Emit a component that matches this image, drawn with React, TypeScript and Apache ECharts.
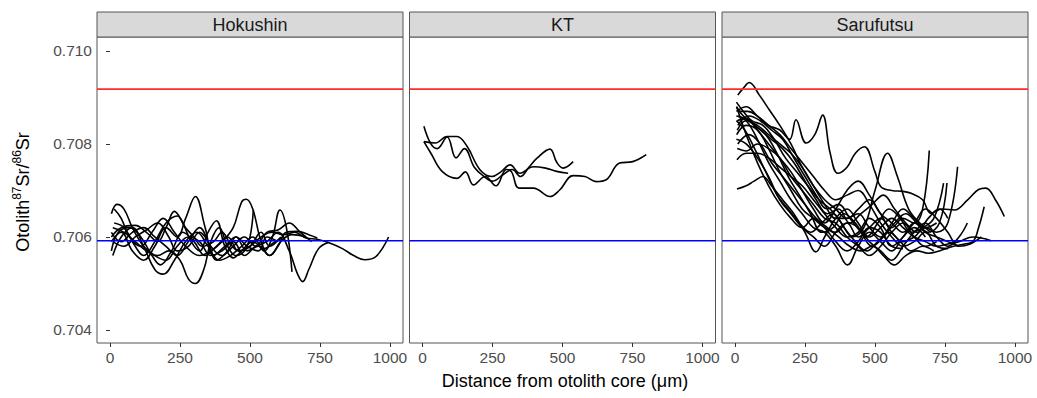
import React, { useEffect, useRef } from "react";
import * as echarts from "echarts";

type Pt = [number, number];

const PANELS = ["Hokushin", "KT", "Sarufutsu"];
const X_TICKS = [0, 250, 500, 750, 1000];
const Y_TICKS = [0.704, 0.706, 0.708, 0.71];
const REF_RED = 0.70918;
const REF_BLUE = 0.70592;
const X_RANGE = [-46.4, 1046.5];
const Y_RANGE = [0.70372, 0.7103];

// ---- Hokushin ----
const H1: Pt[] = [[5,0.7057],[30,0.7061],[70,0.7062],[110,0.706],[150,0.7056],[180,0.7054],[220,0.7057],[260,0.7061],[300,0.7059],[340,0.7056],[380,0.7058],[420,0.706],[460,0.7057],[500,0.7058],[540,0.706],[580,0.7061],[620,0.70605],[660,0.7061],[700,0.70598],[740,0.70595],[780,0.70588],[830,0.70575],[870,0.7056],[910,0.70551],[950,0.70558],[995,0.706]];
const H2: Pt[] = [[5,0.7059],[40,0.7061],[80,0.7057],[120,0.7055],[160,0.7058],[200,0.7062],[240,0.706],[270,0.7064],[305,0.70687],[340,0.7062],[370,0.7056],[410,0.7058],[450,0.706],[490,0.7058],[530,0.7057],[560,0.706],[600,0.7059]];
const H3: Pt[] = [[10,0.7062],[50,0.7061],[90,0.7059],[130,0.7057],[170,0.7056],[210,0.7057],[250,0.7055],[280,0.7051],[305,0.705],[335,0.7053],[360,0.7059],[390,0.7062],[420,0.7058],[450,0.7056],[480,0.7057],[500,0.706],[512,0.70658]];
const H4: Pt[] = [[15,0.7066],[40,0.7064],[70,0.706],[110,0.7058],[150,0.7061],[190,0.7064],[230,0.7061],[270,0.7058],[320,0.7056],[360,0.7057],[400,0.7059],[440,0.7062],[470,0.70675],[487,0.70681],[510,0.7066],[540,0.7059],[570,0.7056],[600,0.7058],[630,0.7061],[670,0.70612],[710,0.70605],[740,0.70598]];
const H5: Pt[] = [[10,0.7056],[40,0.706],[80,0.7062],[120,0.7058],[160,0.7053],[190,0.7052],[230,0.7055],[270,0.7059],[310,0.7061],[350,0.7058],[390,0.7055],[430,0.7056],[470,0.7058],[510,0.706],[550,0.7057],[580,0.706],[607,0.70658],[630,0.7062],[650,0.70525]];
const H6: Pt[] = [[5,0.7065],[25,0.7067],[50,0.7066],[80,0.7062],[120,0.7058],[160,0.7056],[200,0.7055],[240,0.7058],[280,0.706],[320,0.7059],[360,0.7056],[400,0.7057],[440,0.7059],[480,0.7056],[520,0.7058],[560,0.7059],[600,0.7061],[640,0.7057],[670,0.7052],[688,0.70504],[710,0.7053],[745,0.70575],[780,0.70588]];
const H7: Pt[] = [[5,0.706],[40,0.7062],[90,0.70625],[130,0.7061],[170,0.7059],[200,0.7062],[230,0.70655],[260,0.7063],[290,0.7059],[320,0.7057],[350,0.7061],[380,0.70635],[410,0.7058],[440,0.70555],[470,0.7057],[510,0.7059],[550,0.70575],[590,0.7059],[620,0.706]];
const H8: Pt[] = [[10,0.7059],[50,0.7058],[90,0.706],[130,0.70615],[170,0.7063],[210,0.706],[240,0.7057],[280,0.7058],[320,0.7061],[350,0.7059],[380,0.7055],[420,0.7057],[450,0.706],[490,0.7057],[530,0.7058],[570,0.7056],[610,0.7059],[650,0.70605],[700,0.706]];
const H9: Pt[] = [[15,0.7063],[50,0.7062],[90,0.7058],[120,0.7056],[160,0.7059],[200,0.7063],[240,0.70645],[270,0.7062],[300,0.706],[330,0.7058],[370,0.7059],[400,0.7061],[430,0.70585],[460,0.7057],[500,0.7058],[540,0.7061],[570,0.7058],[610,0.706]];
const H10: Pt[] = [[5,0.7061],[40,0.7059],[80,0.7061],[120,0.7062],[160,0.706],[200,0.7058],[240,0.7056],[280,0.7059],[320,0.7062],[360,0.7058],[400,0.7056],[440,0.7058],[480,0.706],[520,0.7058],[560,0.7061],[600,0.70615],[640,0.7063],[680,0.7061],[720,0.7059]];

// ---- KT ----
const K1: Pt[] = [[5,0.70838],[30,0.708],[52,0.7079],[88,0.70815],[120,0.7077],[150,0.7079],[185,0.7075],[220,0.7073],[250,0.7072],[290,0.70735],[320,0.70745],[350,0.7073],[380,0.7075],[410,0.7077],[455,0.70789],[480,0.7076],[502,0.70748],[538,0.70762]];
const K2: Pt[] = [[5,0.70805],[46,0.70802],[88,0.70816],[123,0.70816],[159,0.70795],[206,0.70744],[248,0.7073],[280,0.7074],[313,0.70755],[348,0.70737],[396,0.70751],[440,0.70748],[479,0.70741],[520,0.70737]];
const K3: Pt[] = [[5,0.70805],[30,0.7078],[70,0.70741],[123,0.70726],[153,0.7074],[182,0.70712],[224,0.7073],[262,0.7071],[300,0.70745],[318,0.7074],[345,0.70705],[396,0.70705],[455,0.70687],[490,0.70701],[538,0.70732],[580,0.7073],[621,0.70719],[656,0.70723],[704,0.70759],[751,0.70762],[799,0.70777]];

// ---- Sarufutsu ----
const S1: Pt[] = [[10,0.70905],[30,0.7092],[51,0.70932],[87,0.70905],[123,0.70873],[160,0.7084],[200,0.708],[240,0.7075],[280,0.7071],[320,0.7068],[360,0.7066],[400,0.7064],[440,0.7065],[480,0.7062],[520,0.706],[560,0.7063],[600,0.7066],[640,0.7064],[680,0.7062],[720,0.7063]];
const S2: Pt[] = [[5,0.7087],[40,0.7088],[80,0.7086],[120,0.7084],[160,0.7083],[195,0.7081],[218,0.70852],[254,0.70802],[285,0.7082],[313,0.70862],[340,0.7078],[367,0.70737],[400,0.7075],[430,0.7078],[462,0.70794],[500,0.7074],[521,0.70708],[560,0.707],[600,0.70698],[629,0.70694],[670,0.7068],[700,0.70651],[740,0.7066],[784,0.70658],[831,0.7068],[870,0.70702],[896,0.70705],[930,0.7068],[962,0.70644]];
const S3: Pt[] = [[8,0.7085],[40,0.70855],[80,0.7083],[120,0.708],[160,0.7077],[200,0.7074],[240,0.707],[280,0.7066],[320,0.7063],[360,0.7066],[400,0.707],[440,0.7072],[480,0.7069],[520,0.7065],[560,0.7062],[600,0.7064],[640,0.7063],[670,0.7066],[694,0.70786]];
const S4: Pt[] = [[6,0.7082],[40,0.7084],[80,0.7083],[120,0.7079],[160,0.7074],[200,0.707],[240,0.7066],[280,0.7064],[320,0.7062],[360,0.7061],[400,0.7063],[440,0.706],[480,0.7062],[520,0.7064],[560,0.7061],[600,0.7059],[640,0.706],[680,0.7062],[720,0.7061],[760,0.7063],[795,0.70751]];
const S5: Pt[] = [[5,0.7088],[30,0.7086],[70,0.7084],[110,0.7082],[150,0.7078],[190,0.7073],[230,0.7069],[270,0.7065],[310,0.7061],[350,0.7062],[390,0.7065],[430,0.7063],[470,0.706],[510,0.7063],[550,0.7066],[590,0.7064],[630,0.7061],[670,0.7062],[710,0.7064],[745,0.70716]];
const S6: Pt[] = [[10,0.7084],[50,0.7086],[90,0.7085],[130,0.7083],[170,0.7081],[210,0.7077],[250,0.7073],[290,0.7069],[330,0.7066],[370,0.7067],[410,0.7064],[450,0.7061],[490,0.7058],[530,0.706],[570,0.7063],[610,0.7065],[650,0.7063],[690,0.7061],[730,0.7063],[757,0.70716]];
const S7: Pt[] = [[5,0.7086],[40,0.7085],[80,0.7081],[120,0.7076],[160,0.7072],[200,0.7068],[240,0.7065],[280,0.7062],[320,0.7061],[360,0.7058],[402,0.7054],[440,0.7058],[480,0.7061],[520,0.7059],[560,0.7057],[600,0.706],[640,0.7062],[680,0.706]];
const S8: Pt[] = [[10,0.708],[50,0.7082],[90,0.708],[130,0.7076],[170,0.7073],[210,0.707],[250,0.7067],[290,0.7064],[330,0.7062],[370,0.706],[410,0.7058],[450,0.7057],[490,0.7058],[530,0.7056],[569,0.7054],[610,0.7056],[650,0.7057],[690,0.70565],[730,0.7057],[780,0.7058],[820,0.70585],[850,0.7059],[870,0.7062],[890,0.70665]];
const S9: Pt[] = [[7,0.70703],[40,0.7071],[68,0.7072],[100,0.7073],[130,0.7071],[170,0.7068],[210,0.7065],[250,0.7061],[289,0.70568],[320,0.706],[360,0.7064],[400,0.7066],[440,0.7063],[480,0.706],[520,0.7062],[560,0.7064],[600,0.7062],[640,0.706],[680,0.7059],[720,0.7058],[760,0.70585],[800,0.7059],[850,0.706],[915,0.70592]];
const S10: Pt[] = [[7,0.70766],[40,0.7078],[80,0.7078],[120,0.7077],[160,0.7075],[200,0.7073],[240,0.7071],[280,0.7068],[320,0.7065],[360,0.7062],[400,0.706],[440,0.7061],[480,0.7064],[520,0.7062],[560,0.7058],[600,0.706],[640,0.7063],[680,0.7061],[720,0.706],[760,0.7059],[800,0.7058]];
const S11: Pt[] = [[5,0.7089],[30,0.7087],[60,0.7085],[100,0.7084],[140,0.7081],[180,0.7077],[220,0.7074],[260,0.7071],[300,0.7068],[340,0.7066],[380,0.7063],[420,0.706],[460,0.7062],[500,0.707],[545,0.7078],[580,0.7073],[620,0.7066],[660,0.7063],[700,0.7061]];
const S12: Pt[] = [[8,0.7083],[40,0.7085],[80,0.7084],[120,0.7082],[160,0.708],[200,0.7078],[240,0.7075],[280,0.7071],[320,0.7067],[360,0.7064],[400,0.7064],[440,0.7066],[480,0.7068],[520,0.7065],[560,0.7063],[600,0.7061],[640,0.7063],[680,0.7066],[720,0.7064],[760,0.7061],[800,0.7058],[840,0.70585],[880,0.706]];
const S13: Pt[] = [[5,0.7085],[35,0.7083],[70,0.7079],[110,0.7074],[150,0.7069],[190,0.7066],[230,0.7063],[270,0.7061],[310,0.7063],[350,0.7065],[390,0.7062],[430,0.7059],[470,0.7057],[510,0.7059],[550,0.7061],[590,0.7059],[630,0.7057],[670,0.7058],[710,0.7057]];
const S14: Pt[] = [[10,0.7087],[45,0.7087],[80,0.7086],[120,0.7084],[160,0.7082],[200,0.7079],[240,0.7076],[280,0.7073],[320,0.707],[360,0.7068],[400,0.7069],[440,0.707],[480,0.7067],[520,0.7063],[560,0.706],[600,0.7058],[640,0.7059],[680,0.7061],[720,0.7058],[760,0.70575]];
const S15: Pt[] = [[5,0.7081],[40,0.708],[80,0.7077],[120,0.7073],[160,0.7068],[200,0.7065],[240,0.7062],[280,0.706],[320,0.7058],[360,0.7061],[400,0.7063],[440,0.7062],[480,0.7059],[520,0.7057],[560,0.7055],[600,0.7058],[640,0.7061],[680,0.7063],[720,0.706],[760,0.7058],[800,0.706],[830,0.7063]];
const S16: Pt[] = [[6,0.7088],[40,0.7082],[80,0.7076],[120,0.7071],[160,0.7067],[200,0.7064],[240,0.7062],[280,0.7064],[320,0.7062],[360,0.7059],[400,0.7057],[440,0.7059],[480,0.7062],[520,0.7061],[560,0.7058],[600,0.70575]];
const S17: Pt[] = [[10,0.7086],[50,0.7085],[90,0.7083],[130,0.7081],[170,0.7079],[210,0.7076],[250,0.7072],[290,0.7068],[330,0.7065],[370,0.7066],[410,0.7063],[450,0.7065],[490,0.7067],[530,0.7069],[570,0.7066],[610,0.7063],[650,0.7061],[690,0.7064],[730,0.7066],[760,0.7064]];
const S18: Pt[] = [[8,0.7079],[40,0.70785],[80,0.708],[120,0.7079],[160,0.7077],[200,0.7073],[240,0.707],[280,0.7067],[320,0.7064],[360,0.7063],[400,0.706],[440,0.7058],[480,0.7056],[520,0.7058],[560,0.7061],[600,0.7063],[640,0.706],[680,0.7058],[720,0.7059]];

const HOKUSHIN = [H1, H2, H3, H4, H5, H6, H7, H8, H9, H10];
const KT = [K1, K2, K3];
const SARUFUTSU = [S1, S2, S3, S4, S5, S6, S7, S8, S9, S10, S11, S12, S13, S14, S15, S16, S17, S18];
const GROUPS = [HOKUSHIN, KT, SARUFUTSU];

const FONT = "'Liberation Sans', Arial, Helvetica, sans-serif";

export default function App() {
  const ref = useRef<HTMLDivElement>(null);
  useEffect(() => {
    document.body.style.margin = "0";
    if (!ref.current) return;
    const chart = echarts.init(ref.current, undefined, { renderer: "svg" });
    const lefts = [97, 409.5, 722];
    const W = 306;
    const TOP = 37;
    const H = 306;
    const border = "#555555";

    const grids = lefts.map((l) => ({
      left: l,
      top: TOP,
      width: W,
      height: H,
      show: true,
      borderColor: border,
      borderWidth: 1,
      backgroundColor: "#ffffff",
    }));

    const xAxes = lefts.map((_, i) => ({
      type: "value",
      gridIndex: i,
      min: X_RANGE[0],
      max: X_RANGE[1],
      axisLine: { show: false },
      splitLine: { show: false },
      axisTick: { show: true, length: 4, lineStyle: { color: "#333" }, customValues: X_TICKS },
      axisLabel: {
        show: true,
        customValues: X_TICKS,
        margin: 6,
        color: "#4d4d4d",
        fontSize: 15.5,
        fontFamily: FONT,
        formatter: (v: number) => String(Math.round(v)),
      },
    }));

    const yAxes = lefts.map((_, i) => ({
      type: "value",
      gridIndex: i,
      min: Y_RANGE[0],
      max: Y_RANGE[1],
      axisLine: { show: false },
      splitLine: { show: false },
      axisTick: { show: i === 0, length: 4, lineStyle: { color: "#333" }, customValues: Y_TICKS },
      axisLabel: {
        show: i === 0,
        customValues: Y_TICKS,
        margin: 5,
        color: "#4d4d4d",
        fontSize: 15.5,
        fontFamily: FONT,
        formatter: (v: number) => v.toFixed(3),
      },
    }));

    const series: any[] = [];
    GROUPS.forEach((group, gi) => {
      group.forEach((pts, li) => {
        series.push({
          type: "line",
          name: `${PANELS[gi]}-${li + 1}`,
          xAxisIndex: gi,
          yAxisIndex: gi,
          data: pts,
          smooth: 0.4,
          showSymbol: false,
          symbol: "none",
          lineStyle: { color: "#000000", width: 1.6 },
          z: 2,
        });
      });
      [
        { v: REF_RED, c: "#ff2a2a" },
        { v: REF_BLUE, c: "#0000ff" },
      ].forEach((r, ri) => {
        series.push({
          type: "line",
          name: `${PANELS[gi]}-ref${ri}`,
          xAxisIndex: gi,
          yAxisIndex: gi,
          data: [
            [X_RANGE[0], r.v],
            [X_RANGE[1], r.v],
          ],
          showSymbol: false,
          symbol: "none",
          silent: true,
          lineStyle: { color: r.c, width: 1.6 },
          z: 5,
        });
      });
    });

    const graphics: any[] = [];
    lefts.forEach((l, i) => {
      graphics.push({
        type: "rect",
        shape: { x: l, y: 12, width: W, height: 25 },
        style: { fill: "#d9d9d9", stroke: border, lineWidth: 1 },
        z: 10,
      });
      graphics.push({
        type: "text",
        x: l + W / 2,
        y: 25,
        style: {
          text: PANELS[i],
          fill: "#1a1a1a",
          font: `18px ${FONT}`,
          align: "center",
          verticalAlign: "middle",
        },
        z: 11,
      });
    });
    graphics.push({
      type: "text",
      x: 565,
      y: 381,
      style: {
        text: "Distance from otolith core (μm)",
        fill: "#000000",
        font: `18px ${FONT}`,
        align: "center",
        verticalAlign: "middle",
      },
    });
    graphics.push({
      type: "text",
      x: 23,
      y: 192,
      rotation: Math.PI / 2,
      style: {
        text: "Otolith{sup|87}Sr/{sup|86}Sr",
        fill: "#000000",
        fontSize: 18,
        fontFamily: FONT,
        align: "center",
        verticalAlign: "middle",
        lineHeight: 24,
        rich: {
          sup: { fontSize: 12, fontFamily: FONT, fill: "#000000", verticalAlign: "top", lineHeight: 14 },
        },
      },
    });

    chart.setOption({
      animation: false,
      backgroundColor: "#ffffff",
      grid: grids,
      xAxis: xAxes,
      yAxis: yAxes,
      series,
      graphic: graphics,
    });
    return () => chart.dispose();
  }, []);
  return <div ref={ref} style={{ width: 1037, height: 398 }} />;
}
